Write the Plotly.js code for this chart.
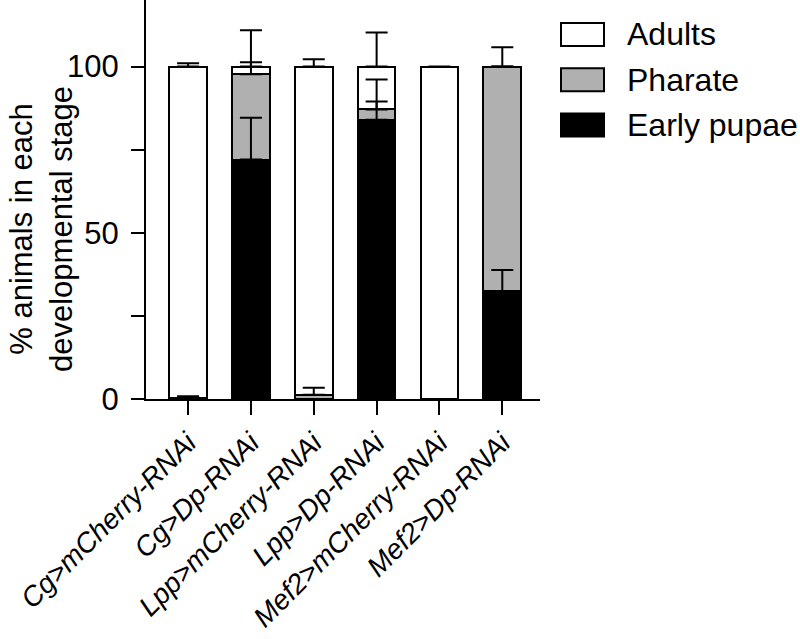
<!DOCTYPE html>
<html>
<head>
<meta charset="utf-8">
<script src="https://cdn.plot.ly/plotly-3.0.1.min.js"></script>
<style>html,body{margin:0;padding:0;background:#fff;}#chart{width:800px;height:639px;}</style>
</head>
<body>
<div id="chart"></div>
<script>
const categories = ['Cg>mCherry-RNAi','Cg>Dp-RNAi','Lpp>mCherry-RNAi','Lpp>Dp-RNAi','Mef2>mCherry-RNAi','Mef2>Dp-RNAi'];
const earlyPupae    = [0.4, 72.0, 0.0, 84.0, 0.0, 32.5];
const earlyPupaeErr = [0.4, 12.6, null, 5.5, null, 6.3];
const pharate       = [0.0, 25.7, 1.3, 3.1, 0.0, 67.5];
const pharateErr    = [null, 3.6, 2.1, 9.0, null, 5.8];
const adults        = [99.6, 2.3, 98.7, 12.9, 100.0, 0.0];
const adultsErr     = [1.0, 10.9, 2.2, 10.2, null, null];
const yTickVals = [0, 25, 50, 75, 100];
const yTickText = ['0', '', '50', '', '100'];
const legendOrder = ['Adults', 'Pharate', 'Early pupae'];
const yTitle = '% animals in each<br>developmental stage';

const FONT = 'Arial, "Liberation Sans", sans-serif';
const W = 800, H = 639;
const M = {l: 146, r: 260, t: 0, b: 240};
const PW = W - M.l - M.r, PH = H - M.t - M.b;
const px = x => (x - M.l) / PW;
const py = y => (H - M.b - y) / PH;

const series = [
  {name: 'Early pupae', y: earlyPupae, err: earlyPupaeErr, fill: '#000000'},
  {name: 'Pharate', y: pharate, err: pharateErr, fill: '#b0b0b0'},
  {name: 'Adults', y: adults, err: adultsErr, fill: '#ffffff'}
];

const traces = [];
series.forEach(s => {
  traces.push({
    type: 'bar', name: s.name, x: categories, y: s.y,
    marker: {color: s.fill, line: {color: '#000', width: 2}},
    width: 0.6, hoverinfo: 'skip', showlegend: false
  });
});
// error bars at the top of each stacked segment, drawn above all bars
const cum = categories.map(() => 0);
series.forEach(s => {
  const tops = s.y.map((v, i) => { cum[i] += v; return cum[i]; });
  traces.push({
    type: 'scatter', mode: 'markers', x: categories, y: tops,
    marker: {size: 1, opacity: 0}, showlegend: false, hoverinfo: 'skip',
    error_y: {type: 'data', symmetric: false, array: s.err, arrayminus: s.err.map(() => 0),
              color: '#000', thickness: 2, width: 11}
  });
});

// legend drawn as boxes + text
const shapes = [], annotations = [];
legendOrder.forEach((name, k) => {
  const s = series.find(t => t.name === name);
  const top = 23 + k * 45.3;
  shapes.push({type: 'rect', xref: 'paper', yref: 'paper',
    x0: px(561), x1: px(604), y0: py(top), y1: py(top + 23),
    fillcolor: s.fill, line: {color: '#000', width: 2}});
  annotations.push({xref: 'paper', yref: 'paper', x: px(625), y: py(top + 11.5),
    xanchor: 'left', yanchor: 'middle', showarrow: false, text: name,
    font: {family: FONT, size: 32, color: '#000'}});
});
// y-axis title
annotations.push({xref: 'paper', yref: 'paper', x: px(41), y: py(229),
  xanchor: 'center', yanchor: 'middle', showarrow: false, textangle: -90,
  text: yTitle, font: {family: FONT, size: 31, color: '#000'}});

const layout = {
  width: W, height: H,
  margin: M,
  paper_bgcolor: '#fff', plot_bgcolor: '#fff',
  barmode: 'stack',
  font: {family: FONT, color: '#000'},
  showlegend: false,
  shapes: shapes, annotations: annotations,
  xaxis: {
    range: [-0.67, 5.6], showgrid: false, zeroline: false,
    showline: true, linecolor: '#000', linewidth: 2,
    ticks: 'outside', ticklen: 14, tickwidth: 2, tickcolor: '#000',
    tickangle: -45, tickfont: {family: FONT, size: 28, style: 'italic', color: '#000'}
  },
  yaxis: {
    range: [0, 120], showgrid: false, zeroline: false,
    showline: true, linecolor: '#000', linewidth: 2,
    ticks: 'outside', ticklen: 13, tickwidth: 2, tickcolor: '#000',
    tickmode: 'array', tickvals: yTickVals, ticktext: yTickText,
    ticklabelstandoff: 6,
    tickfont: {family: FONT, size: 31, color: '#000'}
  }
};
Plotly.newPlot('chart', traces, layout, {displayModeBar: false, staticPlot: true});
</script>
</body>
</html>
